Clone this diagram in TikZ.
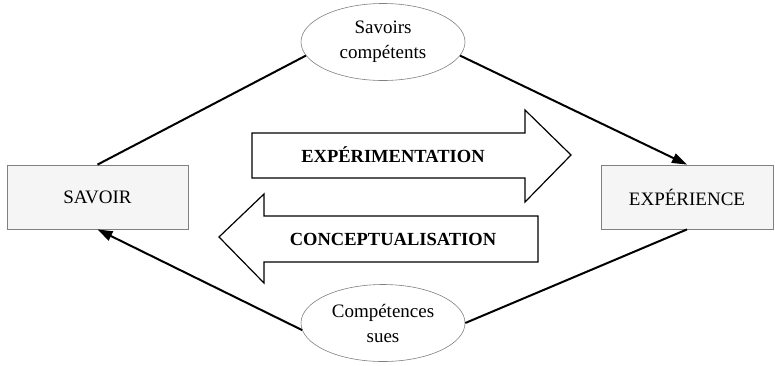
\documentclass[tikz,border=0pt]{standalone}
\usepackage{fontspec}
\setmainfont{Liberation Serif}
\usetikzlibrary{arrows.meta, shapes.geometric, positioning}

\begin{document}
\begin{tikzpicture}[x=1pt, y=-1pt,
    pole/.style={draw=gray, fill=gray!8, line width=0.8pt, minimum height=64pt, inner sep=0pt, font=\fontsize{19}{23}\selectfont},
    bulle/.style={ellipse, draw=gray, line width=0.6pt, minimum width=164pt, minimum height=77pt, inner sep=0pt, align=center, font=\fontsize{19}{25}\selectfont},
    trait/.style={line width=2pt},
    lien/.style={trait, -{Triangle[length=15pt, width=10pt]}},
    fleche/.style={draw=black, line width=1.2pt, line join=miter, fill=white},
    mot/.style={font=\bfseries\fontsize{18.5}{21}\selectfont}
]
    \useasboundingbox (0,0) rectangle (775,365);

    % Poles
    \node[pole, minimum width=181pt] (savoir) at (97.5,197) {SAVOIR};
    \node[pole, minimum width=172pt] (exp) at (687,197) {EXPÉRIENCE};

    % Bulles
    \node[bulle] (sc) at (383,42) {Savoirs\\compétents};
    \node[bulle] (cs) at (383,323) {Compétences\\sues};

    % Liens
    \draw[trait] (savoir.north) -- (sc.190);
    \draw[lien] (sc.-10) -- (exp.north);
    \draw[lien] (cs.185) -- (savoir.south);
    \draw[trait] (exp.south) -- (cs.0);

    % Grandes fleches
    \draw[fleche] (252,133) -- (525,133) -- (525,110) -- (571,155) -- (525,202) -- (525,178) -- (252,178) -- cycle;
    \node[mot] (xp) at (393,155) {EXPÉRIMENTATION};
    \draw[fleche] (538,216) -- (264,216) -- (264,194) -- (219,237) -- (264,283) -- (264,262) -- (538,262) -- cycle;
    \node[mot] (cp) at (393,239) {CONCEPTUALISATION};

\end{tikzpicture}
\end{document}
